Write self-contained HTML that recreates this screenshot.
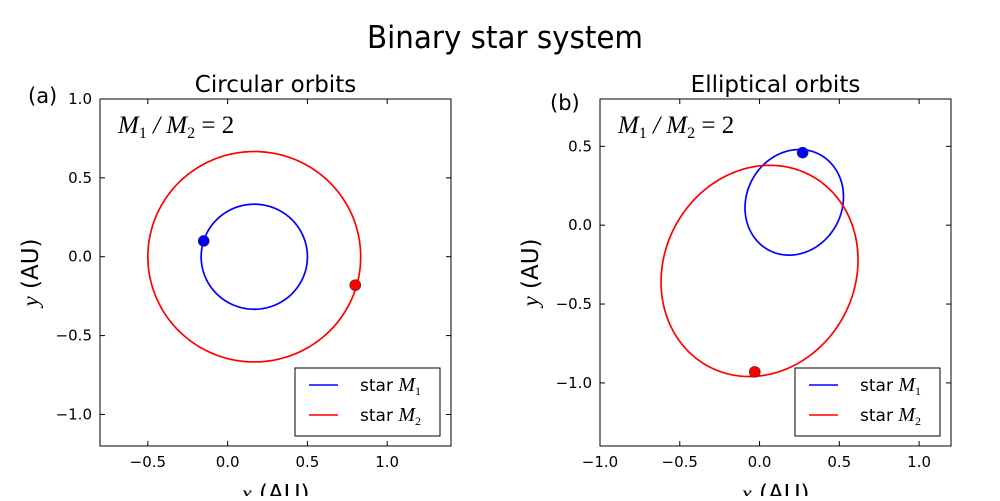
<!DOCTYPE html>
<html><head><meta charset="utf-8"><style>
body{margin:0;background:#fff}
svg text{font-family:"DejaVu Sans","Liberation Sans",sans-serif;fill:#000}
.m{font-family:"Liberation Serif","DejaVu Serif",serif;font-style:italic}
</style></head><body>
<svg id="fig" width="1000" height="496" viewBox="0 0 1000 496" xmlns="http://www.w3.org/2000/svg">
<text x="505" y="48" font-size="31" text-anchor="middle" textLength="276" lengthAdjust="spacingAndGlyphs">Binary star system</text>
<g id="pa"></g>
<g id="pb"></g>
</svg>
<script>
// Panel (a) data: circular orbits
const circCenter = [0.167, 0.0];
const circRadii = [0.333, 0.667];           // star M1, star M2
const circDots = [[-0.15, 0.10], [0.80, -0.18]];
// Panel (b) data: elliptical orbits (red ellipse params), CM and mass ratio
const ellRed = [0.0, -0.29, 0.685, 0.6, 64]; // cx, cy, a, b, angle deg
const ellCM = [0.145, 0.0];
const massRatio = 2;
const ellDots = [[0.27, 0.46], [-0.03, -0.93]];
const xTicksA = [-0.5, 0.0, 0.5, 1.0];
const yTicksA = [-1.0, -0.5, 0.0, 0.5, 1.0];
const xTicksB = [-1.0, -0.5, 0.0, 0.5, 1.0];
const yTicksB = [-1.0, -0.5, 0.0, 0.5];
const colors = ['#0000ff', '#ff0000'];
const NS = 'http://www.w3.org/2000/svg';
function mk(p, t, a) { const e = document.createElementNS(NS, t); for (const k in a) e.setAttribute(k, a[k]); p.appendChild(e); return e; }
function fmt(v) { return (v < 0 ? '\u2212' : '') + Math.abs(v).toFixed(1); }

function panel(g, box, xr, yr, xt, yt, curves, dots, title, label, lbx, legx) {
  const [L, T, R, B] = box;
  const sx = v => L + (v - xr[0]) / (xr[1] - xr[0]) * (R - L);
  const sy = v => B - (v - yr[0]) / (yr[1] - yr[0]) * (B - T);
  let e = mk(g, 'text', { x: (L + R) / 2, y: 92, 'font-size': 23, 'text-anchor': 'middle' });
  e.textContent = title;
  
  
  e = mk(g, 'text', { x: lbx, y: label === '(a)' ? 103 : 110, 'font-size': 21 });
  e.textContent = label;
  
  
  curves.forEach((pts, i) => {
    const d = pts.map((p, j) => (j ? 'L' : 'M') + sx(p[0]).toFixed(2) + ' ' + sy(p[1]).toFixed(2)).join(' ') + 'Z';
    const c = mk(g, 'path', { d: d, fill: 'none', stroke: colors[i], 'stroke-width': 1.7 });
    
    
  });
  dots.forEach((p, i) => {
    const c = mk(g, 'circle', { cx: sx(p[0]), cy: sy(p[1]), r: 5.5, fill: colors[i], stroke: '#333', 'stroke-width': 0.6 });
    
    
  });
  const fr = mk(g, 'rect', { x: L, y: T, width: R - L, height: B - T, fill: 'none', stroke: '#000', 'stroke-width': 1 });
  
  
  xt.forEach(v => {
    const x = sx(v);
    mk(g, 'line', { x1: x, y1: T, x2: x, y2: T + 5, stroke: '#000' });
    mk(g, 'line', { x1: x, y1: B, x2: x, y2: B - 5, stroke: '#000' });
    const t = mk(g, 'text', { x: x, y: B + 21, 'font-size': 15, 'text-anchor': 'middle' });
    t.textContent = fmt(v);
    
    
  });
  yt.forEach(v => {
    const y = sy(v);
    mk(g, 'line', { x1: L, y1: y, x2: L + 5, y2: y, stroke: '#000' });
    mk(g, 'line', { x1: R, y1: y, x2: R - 5, y2: y, stroke: '#000' });
    const t = mk(g, 'text', { x: L - 8, y: y + 5, 'font-size': 15, 'text-anchor': 'end' });
    t.textContent = fmt(v);
    
    
  });
  const an = mk(g, 'text', { x: L + 18, y: T + 34, 'font-size': 25 });
  an.innerHTML = '<tspan class="m">M</tspan><tspan font-size="16" dy="5" font-family="Liberation Serif">1</tspan><tspan class="m" dy="-5"> / M</tspan><tspan font-size="16" dy="5" font-family="Liberation Serif">2</tspan><tspan dy="-5" font-family="Liberation Serif"> = 2</tspan>';
  
  
  const xl = mk(g, 'text', { x: (L + R) / 2, y: 501, 'font-size': 23, 'text-anchor': 'middle' });
  xl.innerHTML = '<tspan class="m">x</tspan> (AU)';
  
  
  const yx = L - 62, yy = (T + B) / 2;
  const yl = mk(g, 'text', { x: yx, y: yy, 'font-size': 23, 'text-anchor': 'middle', transform: 'rotate(-90 ' + yx + ' ' + yy + ')' });
  yl.innerHTML = '<tspan class="m">y</tspan> (AU)';
  
  
  const lg = mk(g, 'g', {});
  
  
  mk(lg, 'rect', { x: legx, y: 368, width: 145, height: 68, fill: '#fff', stroke: '#000', 'stroke-width': 1 });
  [0, 1].forEach(i => {
    const y = 385 + i * 30;
    mk(lg, 'line', { x1: legx + 14, y1: y, x2: legx + 43, y2: y, stroke: colors[i], 'stroke-width': 1.5 });
    const t = mk(lg, 'text', { x: legx + 65, y: y + 6, 'font-size': 17 });
    t.innerHTML = 'star <tspan class="m" font-size="20">M</tspan><tspan font-size="12" dy="4" font-family="Liberation Serif">' + (i + 1) + '</tspan>';
    
    
  });
}

const N = 240;
const circCurves = circRadii.map(r => {
  const pts = [];
  for (let k = 0; k < N; k++) { const t = 2 * Math.PI * k / N; pts.push([circCenter[0] + r * Math.cos(t), circCenter[1] + r * Math.sin(t)]); }
  return pts;
});
const red = [];
{
  const [cx, cy, a, b, ang] = ellRed, th = ang * Math.PI / 180;
  for (let k = 0; k < N; k++) {
    const t = 2 * Math.PI * k / N, u = a * Math.cos(t), v = b * Math.sin(t);
    red.push([cx + u * Math.cos(th) - v * Math.sin(th), cy + u * Math.sin(th) + v * Math.cos(th)]);
  }
}
const blue = red.map(p => [ellCM[0] - (p[0] - ellCM[0]) / massRatio, ellCM[1] - (p[1] - ellCM[1]) / massRatio]);

panel(document.getElementById('pa'), [100, 99, 451, 446], [-0.8, 1.4], [-1.2, 1.0], xTicksA, yTicksA, circCurves, circDots, 'Circular orbits', '(a)', 28, 295);
panel(document.getElementById('pb'), [600, 99, 951, 446], [-1.0, 1.2], [-1.4, 0.8], xTicksB, yTicksB, [blue, red], ellDots, 'Elliptical orbits', '(b)', 550, 795);
</script>
</body></html>
